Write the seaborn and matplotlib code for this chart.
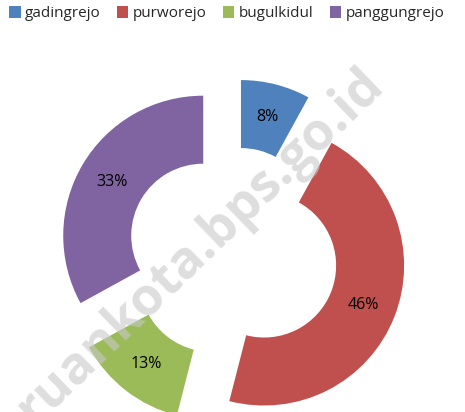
import matplotlib.pyplot as plt
import seaborn as sns

kelurahan = ['gadingrejo', 'purworejo', 'bugulkidul', 'panggungrejo']
persen = [8, 46, 13, 33]
warna = ['#4F81BD', '#C0504D', '#9BBB59', '#8064A2']

sns.set_style('white')
plt.rcParams['font.family'] = ['Open Sans', 'DejaVu Sans']

fig = plt.figure(figsize=(4.65, 4.12), dpi=100)
ax = fig.add_axes([0, 0, 1, 1])

# pixel-like coordinates so the donut sits where it does in the reference
wedges, _, autotexts = ax.pie(
    persen, colors=warna, startangle=90, counterclock=False,
    center=(232.5, 159), radius=140, explode=[34] * 4,
    autopct='%1.0f%%', pctdistance=0.76,
    wedgeprops=dict(width=68, linewidth=0),
    textprops=dict(fontsize=11.5, color='black'))

ax.set_xlim(0, 465)
ax.set_ylim(0, 412)
ax.set_aspect('equal')
ax.axis('off')

leg = fig.legend(wedges, kelurahan, loc='upper left', bbox_to_anchor=(-0.01, 1.018),
                 ncol=4, frameon=False, fontsize=11, handlelength=0.75,
                 handleheight=0.75, handletextpad=0.3, columnspacing=1.05)

# watermark
ax.text(200, 166, 'ruankota.bps.go.id', rotation=44, ha='center', va='center',
        fontsize=37.5, fontweight='bold', color='#c8c8c8', alpha=0.6,
        family=['Open Sans', 'DejaVu Sans'], zorder=10)

fig.savefig('out.png', dpi=100)
